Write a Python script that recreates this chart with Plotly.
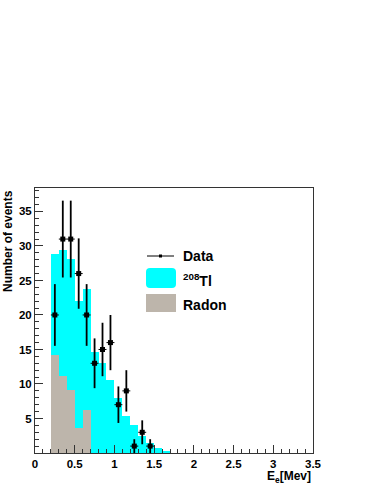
import numpy as np
import plotly.graph_objects as go

# ---- data ----
bin_width = 0.1
tl_bin_centers = [0.25, 0.35, 0.45, 0.55, 0.65, 0.75, 0.85, 0.95, 1.05, 1.15, 1.25, 1.35, 1.45, 1.55, 1.65]
tl_counts = [28.8, 29.4, 28.1, 22.0, 23.8, 14.6, 13.1, 10.6, 8.0, 5.4, 4.0, 2.5, 1.4, 0.7, 0.3]

radon_bin_centers = [0.25, 0.35, 0.45, 0.55, 0.65]
radon_counts = [14.2, 11.1, 9.1, 3.6, 6.2]

data_x = [0.25, 0.35, 0.45, 0.55, 0.65, 0.75, 0.85, 0.95, 1.05, 1.15, 1.25, 1.35, 1.45]
data_y = [20, 31, 31, 26, 20, 13, 15, 16, 7, 9, 1, 3, 1]

x_tickvals = [0, 0.5, 1, 1.5, 2, 2.5, 3, 3.5]
x_ticktext = ["0", "0.5", "1", "1.5", "2", "2.5", "3", "3.5"]
y_tickvals = [5, 10, 15, 20, 25, 30, 35]
y_ticktext = ["5", "10", "15", "20", "25", "30", "35"]

CYAN = "#00FFFF"
GREY = "#BDB5AB"
FONT = "Liberation Sans, Arial, sans-serif"

fig = go.Figure()
fig.add_trace(go.Bar(x=tl_bin_centers, y=tl_counts, width=bin_width,
                     marker=dict(color=CYAN, line=dict(width=0)), showlegend=False))
fig.add_trace(go.Bar(x=radon_bin_centers, y=radon_counts, width=bin_width,
                     marker=dict(color=GREY, line=dict(width=0)), showlegend=False))
fig.add_trace(go.Scatter(
    x=data_x, y=data_y, mode="markers",
    marker=dict(symbol="square", size=5, color="black"),
    error_y=dict(type="data", array=list(np.sqrt(data_y)), color="black", thickness=1.8, width=0),
    error_x=dict(type="constant", value=bin_width / 2, color="black", thickness=1, width=0),
    showlegend=False))

fig.update_layout(
    width=376, height=487,
    margin=dict(l=35, r=63, t=188, b=34),
    paper_bgcolor="white", plot_bgcolor="white",
    barmode="overlay", bargap=0,
    font=dict(family=FONT, color="black"),
)
fig.update_xaxes(
    range=[0, 3.5], tickvals=x_tickvals, ticktext=["<b>%s</b>" % t for t in x_ticktext],
    ticks="inside", ticklen=8, tickwidth=1, tickcolor="#333",
    minor=dict(dtick=0.1, ticks="inside", ticklen=4, tickcolor="#333", tickwidth=1),
    showline=True, linecolor="#333", linewidth=1, mirror=True,
    showgrid=False, zeroline=False,
    tickfont=dict(family=FONT, size=11.5, color="black"),
)
fig.update_yaxes(
    range=[0, 38.4], tickvals=y_tickvals, ticktext=["<b>%s</b>" % t for t in y_ticktext],
    ticks="inside", ticklen=8, tickwidth=1, tickcolor="#333",
    minor=dict(dtick=1, ticks="inside", ticklen=4, tickcolor="#333", tickwidth=1),
    showline=True, linecolor="#333", linewidth=1, mirror=True,
    showgrid=False, zeroline=False,
    tickfont=dict(family=FONT, size=11.5, color="black"),
)

def px_x(p):
    return (p - 35) / 278.0

def px_y(p):
    return (453 - p) / 265.0

# axis titles
fig.add_annotation(text="<b>Number of events</b>", xref="paper", yref="paper",
                   x=px_x(8), y=1.0, xanchor="center", yanchor="top", textangle=-90,
                   showarrow=False, font=dict(family=FONT, size=12, color="black"))
fig.add_annotation(text="<b>E<sub>e</sub>[Mev]</b>", xref="paper", yref="paper",
                   x=1.0, y=px_y(477), xanchor="right", yanchor="middle",
                   showarrow=False, font=dict(family=FONT, size=12, color="black"))

# legend (manual)
ly = px_y(256)
fig.add_shape(type="line", xref="paper", yref="paper", x0=px_x(147), x1=px_x(174), y0=ly, y1=ly,
              line=dict(color="black", width=1))
fig.add_shape(type="rect", xref="paper", yref="paper",
              x0=px_x(159), x1=px_x(162), y0=px_y(254.5), y1=px_y(257.5),
              fillcolor="black", line=dict(width=0))
# rounded cyan box
x0, x1, y0, y1 = px_x(146), px_x(176), px_y(288), px_y(268)
rx, ry = 4 / 278.0, 4 / 265.0
path = (f"M {x0+rx},{y0} L {x1-rx},{y0} Q {x1},{y0} {x1},{y0+ry} L {x1},{y1-ry} "
        f"Q {x1},{y1} {x1-rx},{y1} L {x0+rx},{y1} Q {x0},{y1} {x0},{y1-ry} "
        f"L {x0},{y0+ry} Q {x0},{y0} {x0+rx},{y0} Z")
fig.add_shape(type="path", xref="paper", yref="paper", path=path,
              fillcolor=CYAN, line=dict(width=0))
fig.add_shape(type="rect", xref="paper", yref="paper",
              x0=px_x(146), x1=px_x(176), y0=px_y(312), y1=px_y(294),
              fillcolor=GREY, line=dict(width=0))

for txt, yy in [("<b>Data</b>", 256), ("<b><sup>208</sup>Tl</b>", 280), ("<b>Radon</b>", 305)]:
    fig.add_annotation(text=txt, xref="paper", yref="paper", x=px_x(181), y=px_y(yy),
                       xanchor="left", yanchor="middle", showarrow=False,
                       font=dict(family=FONT, size=14, color="black"))

fig.write_html("out.html", config={"displayModeBar": False},
               post_script="document.body.style.margin='0px';document.body.style.overflow='hidden';")
